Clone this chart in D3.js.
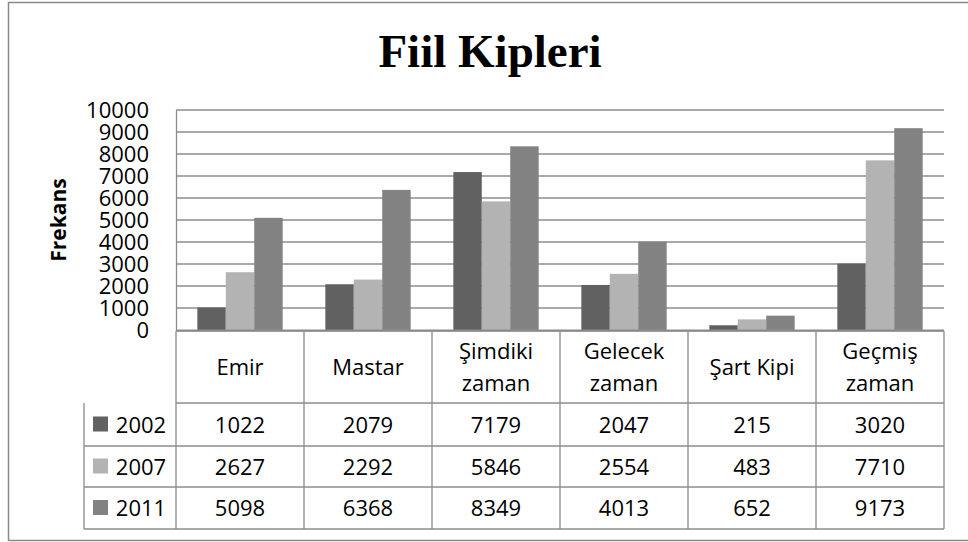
<!DOCTYPE html>
<html>
<head>
<meta charset="utf-8">
<script src="https://cdn.jsdelivr.net/npm/d3@7"></script>
<style>
html,body{margin:0;padding:0;background:#fff;}
svg{display:block;}
</style>
</head>
<body>
<svg id="chart" width="968" height="542"></svg>
<script>
const title = "Fiil Kipleri";
const yAxisTitle = "Frekans";
const categories = [["Emir"], ["Mastar"], ["Şimdiki", "zaman"], ["Gelecek", "zaman"], ["Şart Kipi"], ["Geçmiş", "zaman"]];
const seriesNames = ["2002", "2007", "2011"];
const values2002 = [1022, 2079, 7179, 2047, 215, 3020];
const values2007 = [2627, 2292, 5846, 2554, 483, 7710];
const values2011 = [5098, 6368, 8349, 4013, 652, 9173];
const seriesColors = ["#616161", "#b3b3b3", "#828282"];
const yTicks = [0, 1000, 2000, 3000, 4000, 5000, 6000, 7000, 8000, 9000, 10000];

const series = [values2002, values2007, values2011];
const svg = d3.select("#chart");
const font = "'Open Sans', Lato, sans-serif";
const fs = 22;
const lineColor = "#8c8c8c";

const plotLeft = 176, plotRight = 944, plotTop = 110, plotBottom = 330;
const tableLeft = 84;
const rowLines = [331, 403, 446, 487, 529];

// outer frame
svg.append("path").attr("d", "M8.5,541 L8.5,2.5 L968,2.5").attr("fill", "none").attr("stroke", "#8a8a8a").attr("stroke-width", 1.5);
svg.append("line").attr("x1", 8.5).attr("x2", 968).attr("y1", 540.5).attr("y2", 540.5).attr("stroke", "#8a8a8a").attr("stroke-width", 1.5);

// title
svg.append("text").attr("x", 490).attr("y", 67).attr("text-anchor", "middle")
  .attr("font-family", "'Liberation Serif', 'Times New Roman', serif").attr("font-weight", "bold")
  .attr("font-size", 47).attr("fill", "#000").text(title);

const x = d3.scaleBand().domain(d3.range(categories.length)).range([plotLeft, plotRight]).padding(0);
const xs = d3.scaleBand().domain(seriesNames).range([0, x.bandwidth()]).paddingInner(0).paddingOuter(0.75);
const y = d3.scaleLinear().domain([0, 10000]).range([plotBottom, plotTop]);

// gridlines
svg.append("g").selectAll("line").data(yTicks.filter(d => d > 0)).join("line")
  .attr("x1", plotLeft).attr("x2", plotRight)
  .attr("y1", d => y(d)).attr("y2", d => y(d))
  .attr("stroke", lineColor).attr("stroke-width", 1.3);

// y axis
const yAxis = d3.axisLeft(y).tickValues(yTicks).tickSize(0).tickPadding(27).tickFormat(d3.format("d"));
const ya = svg.append("g").attr("transform", `translate(${plotLeft},0)`).call(yAxis);
ya.select(".domain").attr("stroke", lineColor).attr("stroke-width", 1.3);
ya.selectAll("text").attr("font-family", font).attr("font-size", fs).attr("fill", "#000").attr("dy", "0.36em");

// y axis title
svg.append("text").attr("transform", `translate(66,${(plotTop + plotBottom) / 2}) rotate(-90)`)
  .attr("text-anchor", "middle").attr("font-family", font).attr("font-weight", "bold")
  .attr("font-size", 21).attr("fill", "#000").text(yAxisTitle);

// bars
const gBars = svg.append("g");
series.forEach((vals, si) => {
  gBars.selectAll(null).data(vals).join("rect")
    .attr("x", (d, i) => x(i) + xs(seriesNames[si]))
    .attr("width", xs.bandwidth())
    .attr("y", d => y(d))
    .attr("height", d => y(0) - y(d))
    .attr("fill", seriesColors[si]);
});

// zero axis line
svg.append("line").attr("x1", plotLeft).attr("x2", plotRight).attr("y1", plotBottom + 0.5).attr("y2", plotBottom + 0.5)
  .attr("stroke", lineColor).attr("stroke-width", 2);

// data table
const gT = svg.append("g");
gT.selectAll(".h").data(rowLines).join("line")
  .attr("x1", (d, i) => i < 2 ? plotLeft : tableLeft).attr("x2", plotRight)
  .attr("y1", d => d).attr("y2", d => d)
  .attr("stroke", lineColor).attr("stroke-width", 1.3);
const vx = d3.range(categories.length + 1).map(i => i < categories.length ? x(i) : plotRight);
gT.selectAll(".v").data(vx).join("line")
  .attr("x1", d => d).attr("x2", d => d)
  .attr("y1", rowLines[0]).attr("y2", rowLines[4])
  .attr("stroke", lineColor).attr("stroke-width", 1.3);
gT.append("line").attr("x1", tableLeft).attr("x2", tableLeft).attr("y1", rowLines[1]).attr("y2", rowLines[4])
  .attr("stroke", lineColor).attr("stroke-width", 1.3);

// category labels
categories.forEach((lines, i) => {
  const cx = x(i) + x.bandwidth() / 2;
  const cy = (rowLines[0] + rowLines[1]) / 2;
  const lh = 32;
  const t = gT.append("text").attr("text-anchor", "middle").attr("font-family", font)
    .attr("font-size", fs).attr("fill", "#000");
  lines.forEach((ln, k) => {
    t.append("tspan").attr("x", cx)
      .attr("y", cy + (k - (lines.length - 1) / 2) * lh + 8).text(ln);
  });
});

// rows
series.forEach((vals, si) => {
  const cy = (rowLines[si + 1] + rowLines[si + 2]) / 2;
  gT.append("rect").attr("x", 93).attr("y", cy - 8).attr("width", 15).attr("height", 15).attr("fill", seriesColors[si]);
  gT.append("text").attr("x", 141).attr("y", cy + 8).attr("text-anchor", "middle")
    .attr("font-family", font).attr("font-size", fs).attr("fill", "#000").text(seriesNames[si]);
  gT.selectAll(null).data(vals).join("text")
    .attr("x", (d, i) => x(i) + x.bandwidth() / 2).attr("y", cy + 8)
    .attr("text-anchor", "middle").attr("font-family", font).attr("font-size", fs).attr("fill", "#000")
    .text(d => d);
});
</script>
</body>
</html>
